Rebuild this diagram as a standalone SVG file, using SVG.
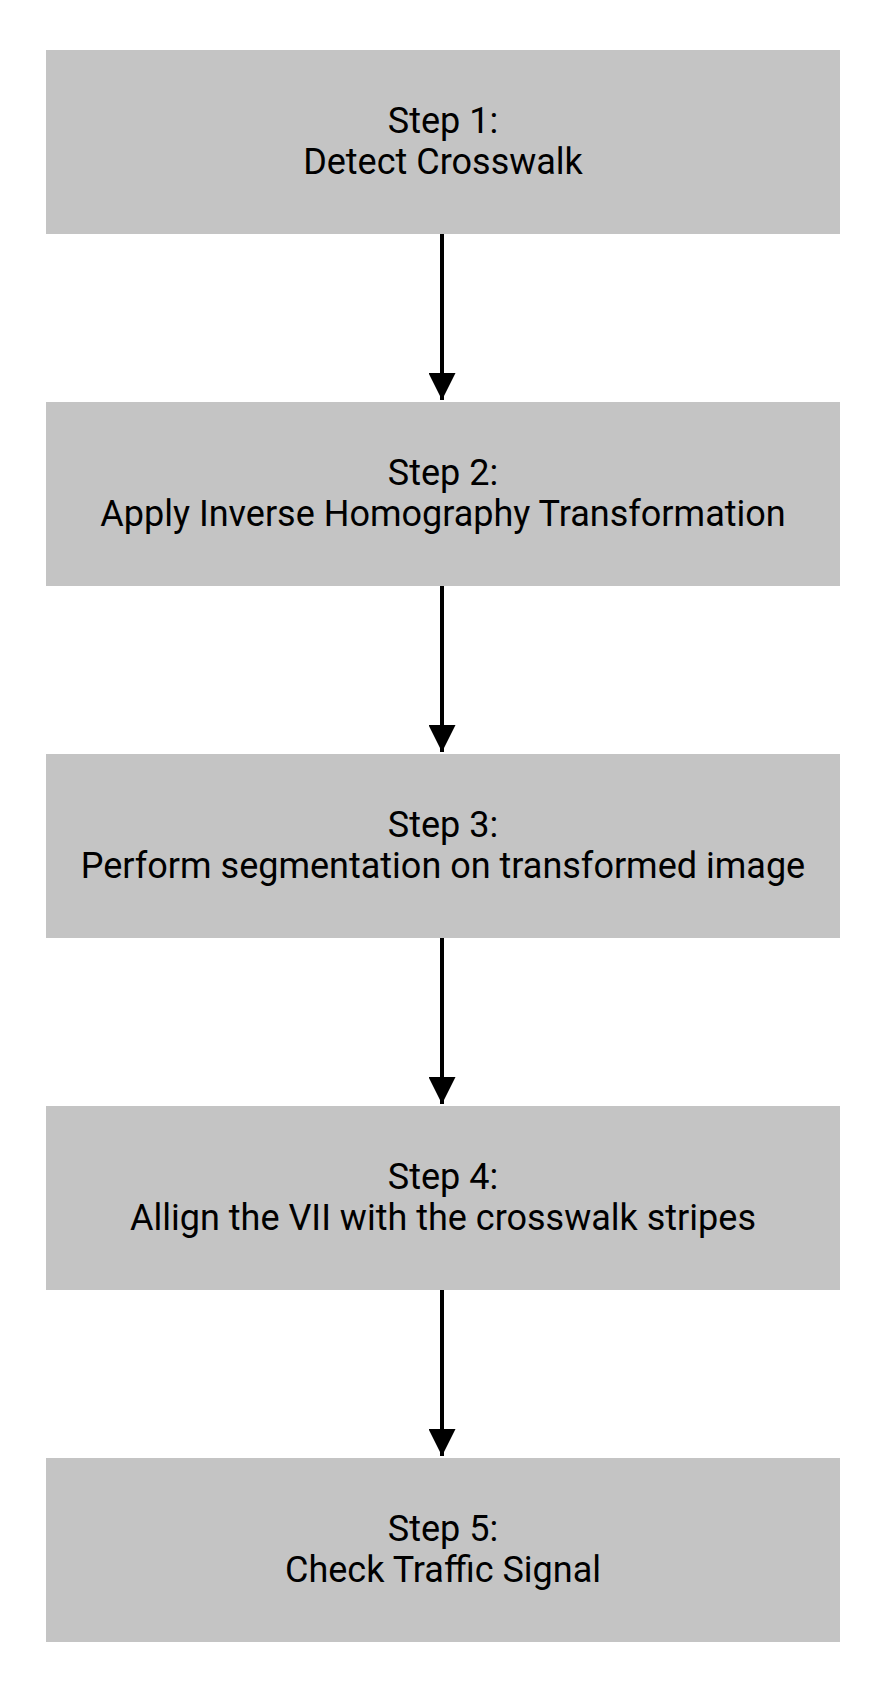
<svg xmlns="http://www.w3.org/2000/svg" width="884" height="1699" viewBox="0 0 884 1699">
<style>
.box{fill:#c4c4c4}
.t{font-family:Roboto,"Liberation Sans",sans-serif;font-size:36px;fill:#000;text-anchor:middle}
.c{stroke:#000;stroke-width:4;fill:none}
</style>
<defs>
<marker id="ah" markerUnits="userSpaceOnUse" markerWidth="30" markerHeight="27" refX="29" refY="14.5" orient="auto" viewBox="0 0 30 29">
<path d="M0,0 L29,14.5 L0,29 Z" fill="#000"/>
</marker>
</defs>
<rect width="884" height="1699" fill="#fff"/>
<g id="connectors">
<line class="c" x1="442" y1="234" x2="442" y2="400" marker-end="url(#ah)"/>
<line class="c" x1="442" y1="586" x2="442" y2="752" marker-end="url(#ah)"/>
<line class="c" x1="442" y1="938" x2="442" y2="1104" marker-end="url(#ah)"/>
<line class="c" x1="442" y1="1290" x2="442" y2="1456" marker-end="url(#ah)"/>
</g>
<g id="step1">
<rect class="box" x="46" y="50" width="794" height="184"/>
<text class="t" x="443" y="133">Step 1:</text>
<text class="t" x="443" y="174">Detect Crosswalk</text>
</g>
<g id="step2">
<rect class="box" x="46" y="402" width="794" height="184"/>
<text class="t" x="443" y="485">Step 2:</text>
<text class="t" x="443" y="526">Apply Inverse Homography Transformation</text>
</g>
<g id="step3">
<rect class="box" x="46" y="754" width="794" height="184"/>
<text class="t" x="443" y="837">Step 3:</text>
<text class="t" x="443" y="878">Perform segmentation on transformed image</text>
</g>
<g id="step4">
<rect class="box" x="46" y="1106" width="794" height="184"/>
<text class="t" x="443" y="1189">Step 4:</text>
<text class="t" x="443" y="1230">Allign the VII with the crosswalk stripes</text>
</g>
<g id="step5">
<rect class="box" x="46" y="1458" width="794" height="184"/>
<text class="t" x="443" y="1541">Step 5:</text>
<text class="t" x="443" y="1582">Check Traffic Signal</text>
</g>
</svg>
